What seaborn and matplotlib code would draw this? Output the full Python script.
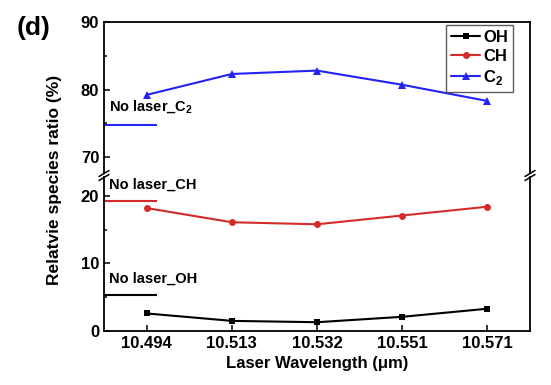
import matplotlib
matplotlib.use("Agg")
import matplotlib.pyplot as plt
from matplotlib.font_manager import FontProperties
from matplotlib.ticker import MultipleLocator
import seaborn as sns

wavelengths = ["10.494", "10.513", "10.532", "10.551", "10.571"]
oh = [2.6, 1.5, 1.3, 2.1, 3.3]
ch = [18.2, 16.1, 15.8, 17.1, 18.4]
c2 = [79.2, 82.3, 82.8, 80.7, 78.3]
no_laser_oh = 5.3
no_laser_ch = 19.3
no_laser_c2 = 74.7

sns.set_style("ticks", {"text.color": "black", "axes.labelcolor": "black",
                        "xtick.color": "black", "ytick.color": "black",
                        "axes.edgecolor": "black"})
plt.rcParams["font.family"] = ["Liberation Sans", "DejaVu Sans"]
plt.rcParams["font.weight"] = "bold"
plt.rcParams["mathtext.fontset"] = "custom"
plt.rcParams["mathtext.bf"] = "Liberation Sans:bold"
plt.rcParams["mathtext.rm"] = "Liberation Sans:bold"

fig = plt.figure(figsize=(5.51, 3.85), dpi=100)
L, R = 104 / 551, 530 / 551
ax_top = fig.add_axes([L, 1 - 173 / 385, R - L, 151 / 385])
ax_bot = fig.add_axes([L, 1 - 331 / 385, R - L, 154 / 385])

x = list(range(len(wavelengths)))
black, red, blue = "#000000", "#d42a2a", "#2323f5"

for ax in (ax_top, ax_bot):
    sns.lineplot(x=x, y=oh, ax=ax, color=black, marker="s", markersize=5,
                 markeredgewidth=0, linewidth=1.5, label="OH")
    sns.lineplot(x=x, y=ch, ax=ax, color=red, marker="o", markersize=5,
                 markeredgewidth=0, linewidth=1.5, label="CH")
    sns.lineplot(x=x, y=c2, ax=ax, color=blue, marker="^", markersize=6,
                 markeredgewidth=0, linewidth=1.5, label="C$_\\mathbf{2}$")
    ax.set_xlim(-0.5, 4.5)
    for s in ax.spines.values():
        s.set_linewidth(1.3)
    ax.tick_params(direction="in", which="both", width=1.1, labelsize=12)
    ax.tick_params(which="major", length=4)
    ax.tick_params(which="minor", length=2.5)

# no-laser reference levels
ax_top.hlines(no_laser_c2, -0.5, 0.12, color=blue, linewidth=1.5)
ax_bot.hlines(no_laser_ch, -0.5, 0.12, color=red, linewidth=1.5)
ax_bot.hlines(no_laser_oh, -0.5, 0.12, color=black, linewidth=1.5)
ax_top.text(-0.44, 77.4, "No laser_C$_\\mathbf{2}$", fontsize=10.5, fontweight="bold", va="center")
ax_bot.text(-0.44, 21.6, "No laser_CH", fontsize=10.5, fontweight="bold", va="center")
ax_bot.text(-0.44, 7.7, "No laser_OH", fontsize=10.5, fontweight="bold", va="center")

ax_top.set_ylim(67.63, 90)
ax_top.yaxis.set_major_locator(MultipleLocator(10))
ax_top.yaxis.set_minor_locator(MultipleLocator(5))
ax_top.spines["bottom"].set_visible(False)
ax_top.tick_params(axis="x", which="both", bottom=False, labelbottom=False)

ax_bot.set_ylim(0, 22.8)
ax_bot.yaxis.set_major_locator(MultipleLocator(10))
ax_bot.yaxis.set_minor_locator(MultipleLocator(5))
ax_bot.spines["top"].set_visible(False)
ax_bot.set_xticks(x)
ax_bot.set_xticklabels(wavelengths, fontweight="bold")
for lab in ax_top.get_yticklabels() + ax_bot.get_yticklabels():
    lab.set_fontweight("bold")
ax_bot.set_xlabel("Laser Wavelength (\u03bcm)", fontsize=12, fontweight="bold")
ax_bot.get_legend().remove()

leg_font = FontProperties(family="Liberation Sans", weight="bold", size=12)
leg = ax_top.legend(loc="upper right", bbox_to_anchor=(513 / 551, 1 - 25 / 385),
                    bbox_transform=fig.transFigure,
                    prop=leg_font, frameon=True, fancybox=False,
                    edgecolor="#333333", handlelength=1.7, handletextpad=0.2,
                    borderpad=0.3, labelspacing=0.25, borderaxespad=0.0)
leg.get_frame().set_linewidth(1.0)
for t in leg.get_texts():
    t.set_fontproperties(leg_font)
    t.set_color("black")

fig.text(55 / 551, 1 - 180 / 385, "Relatvie species ratio (%)", rotation=90,
         fontsize=12.5, fontweight="bold", ha="center", va="center")
fig.text(34 / 551, 1 - 28 / 385, "(d)", fontsize=19, fontweight="bold",
         ha="center", va="center")

# break marks on both spines
for xs in (L, R):
    for yc in (1 - 173.5 / 385, 1 - 177.5 / 385):
        fig.add_artist(plt.Line2D([xs - 5 / 551, xs + 5 / 551],
                                  [yc - 3 / 385, yc + 3 / 385],
                                  color="black", linewidth=1.1))

fig.savefig("out.png", dpi=100)
